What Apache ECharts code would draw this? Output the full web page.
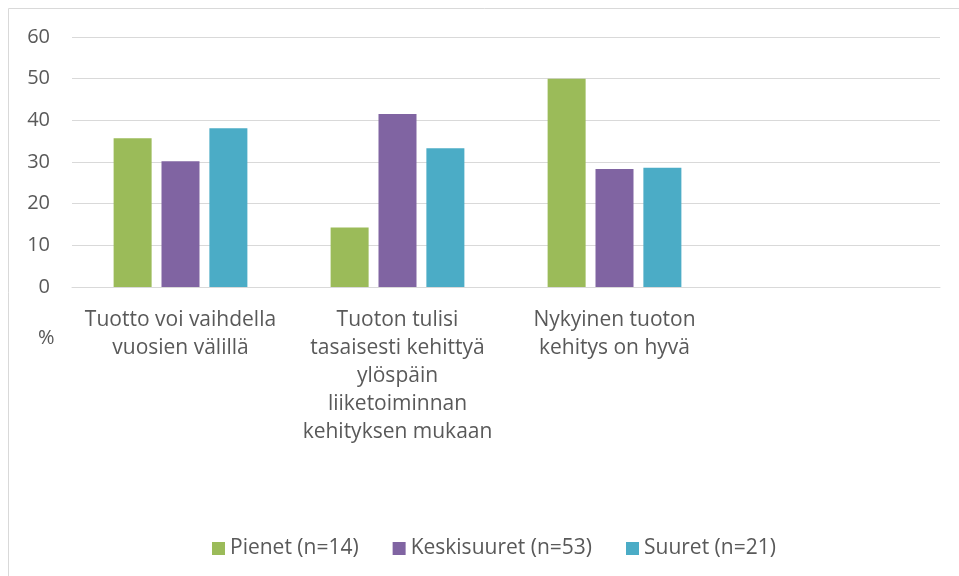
<!DOCTYPE html>
<html>
<head>
<meta charset="utf-8">
<script src="https://cdn.jsdelivr.net/npm/echarts@6/dist/echarts.min.js"></script>
<style>
  html, body { margin: 0; padding: 0; background: #fff; }
  #main { width: 959px; height: 576px; }
</style>
</head>
<body>
<div id="main"></div>
<script>
// kategoriat (viimeinen tyhjä kuten alkuperäisessä)
const categories = [
  'Tuotto voi vaihdella\nvuosien välillä',
  'Tuoton tulisi\ntasaisesti kehittyä\nylöspäin\nliiketoiminnan\nkehityksen mukaan',
  'Nykyinen tuoton\nkehitys on hyvä',
  ''
];
const seriesNames = ['Pienet (n=14)', 'Keskisuuret (n=53)', 'Suuret (n=21)'];
const pienet = [35.7, 14.3, 50.0, null];
const keskisuuret = [30.2, 41.5, 28.3, null];
const suuret = [38.1, 33.3, 28.6, null];
const colors = ['#9BBB59', '#8064A2', '#4BACC6'];

const font = 'Open Sans, Liberation Sans, sans-serif';
const textColor = '#595959';

const myChart = echarts.init(document.getElementById('main'));

const bar = (name, data, color) => ({
  name: name,
  type: 'bar',
  data: data,
  barWidth: 38,
  barGap: '26%',
  itemStyle: { color: color },
  emphasis: { disabled: true },
});

let option = {
  animation: false,
  textStyle: { fontFamily: font },
  grid: { left: 72, right: 19, top: 37, bottom: 289 },
  legend: {
    left: 207,
    top: 533,
    itemWidth: 13,
    itemHeight: 13,
    itemGap: 34,
    icon: 'rect',
    textStyle: { fontSize: 21, color: textColor, fontFamily: font },
    data: seriesNames,
  },
  xAxis: {
    type: 'category',
    data: categories,
    axisLine: { lineStyle: { color: '#d9d9d9', width: 1 } },
    axisTick: { show: false },
    axisLabel: {
      interval: 0,
      margin: 19,
      fontSize: 21,
      lineHeight: 28,
      color: textColor,
      fontFamily: font,
    },
  },
  yAxis: {
    type: 'value',
    min: 0,
    max: 60,
    interval: 10,
    axisLine: { show: false },
    axisTick: { show: false },
    axisLabel: { fontSize: 20, color: textColor, margin: 22, fontFamily: font },
    splitLine: { lineStyle: { color: '#d9d9d9', width: 1 } },
  },
  graphic: [
    {
      type: 'rect',
      shape: { x: 8.5, y: 8.5, width: 960, height: 580 },
      style: { fill: 'none', stroke: '#d9d9d9', lineWidth: 1 },
      silent: true,
    },
    {
      type: 'text',
      left: 38,
      top: 328,
      style: { text: '%', fontSize: 20, fill: textColor, fontFamily: font },
    },
  ],
  series: [
    bar(seriesNames[0], pienet, colors[0]),
    bar(seriesNames[1], keskisuuret, colors[1]),
    bar(seriesNames[2], suuret, colors[2]),
  ],
};

myChart.setOption(option);
</script>
</body>
</html>
